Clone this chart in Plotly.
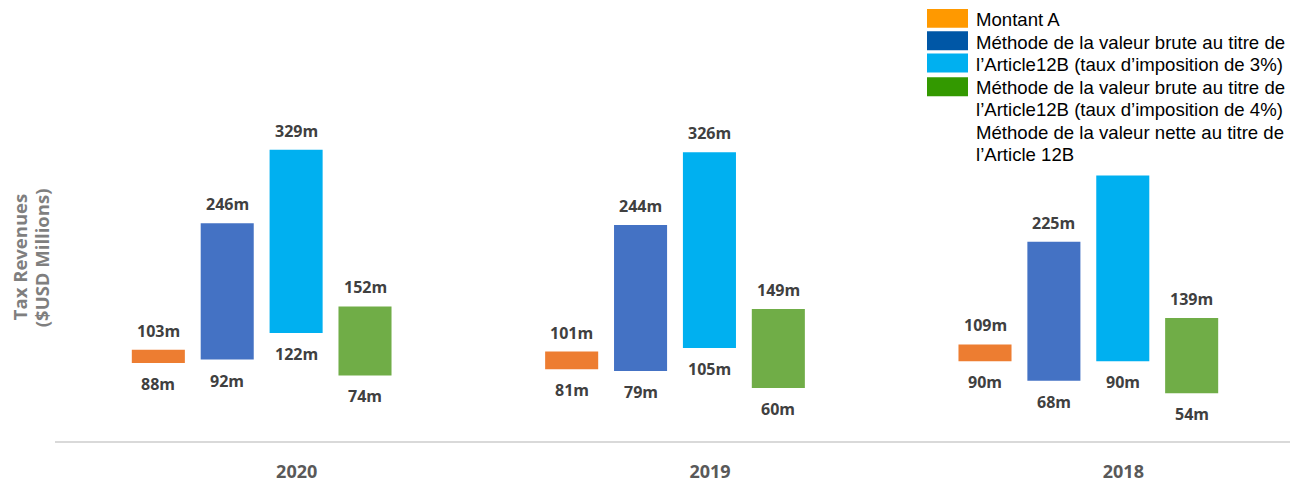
import plotly.graph_objects as go

# ---------------- data ----------------
years = ["2020", "2019", "2018"]

montant_a_low = [88, 81, 90]
montant_a_high = [103, 101, 109]

brute_3_low = [92, 79, 68]
brute_3_high = [246, 244, 225]

brute_4_low = [122, 105, 90]
brute_4_high = [329, 326, 300]

nette_low = [74, 60, 54]
nette_high = [152, 149, 139]

series_names = [
    "Montant A",
    "Méthode de la valeur brute au titre de l’Article12B (taux d’imposition de 3%)",
    "Méthode de la valeur brute au titre de l’Article12B (taux d’imposition de 4%)",
    "Méthode de la valeur nette au titre de l’Article 12B",
]
series_low = [montant_a_low, brute_3_low, brute_4_low, nette_low]
series_high = [montant_a_high, brute_3_high, brute_4_high, nette_high]

# labels not shown in the original (series index, year index)
hidden_top_labels = {(2, 2)}

legend_lines = [
    "Montant A",
    "Méthode de la valeur brute au titre de",
    "l’Article12B (taux d’imposition de 3%)",
    "Méthode de la valeur brute au titre de",
    "l’Article12B (taux d’imposition de 4%)",
    "Méthode de la valeur nette au titre de",
    "l’Article 12B",
]

y_title_lines = ["Tax Revenues", "($USD Millions)"]

# ---------------- style ----------------
bar_colors = ["#ED7D31", "#4472C4", "#00B0F0", "#70AD47"]
legend_colors = ["#FF9900", "#0057A6", "#00B0F0", "#339900"]
label_color = "#404040"

PAGE_OFF = 8  # default body margin of the html page
W, H = 1298 - PAGE_OFF, 485 - PAGE_OFF
ML, MR, MT, MB = 55 - PAGE_OFF, 3, 10 - PAGE_OFF, 40
plot_w = W - ML - MR
plot_h = H - MT - MB
px_per_unit = 0.8936
y_max = plot_h / px_per_unit

fig = go.Figure()

n = len(series_names)
group_width = 2 / 3
slot = group_width / n
bar_w = slot * 0.77

label_font = dict(family="Open Sans", size=16, color=label_color, weight="bold")

annotations = []
for j in range(n):
    xs = [i + (j - (n - 1) / 2) * slot for i in range(len(years))]
    lows = series_low[j]
    highs = series_high[j]
    fig.add_trace(go.Bar(
        x=xs,
        y=[h - l for h, l in zip(highs, lows)],
        base=lows,
        width=bar_w,
        name=series_names[j],
        marker=dict(color=bar_colors[j], line=dict(width=0)),
        showlegend=False,
        hovertemplate="%{base}m – %{customdata}m<extra>" + series_names[j] + "</extra>",
        customdata=highs,
    ))
    for i, x in enumerate(xs):
        if (j, i) not in hidden_top_labels:
            annotations.append(dict(
                x=x, y=highs[i], xref="x", yref="y", text=f"{highs[i]}m",
                showarrow=False, yanchor="middle", yshift=19, font=label_font,
            ))
        annotations.append(dict(
            x=x, y=lows[i], xref="x", yref="y", text=f"{lows[i]}m",
            showarrow=False, yanchor="middle", yshift=-21, font=label_font,
        ))


def px_x(page_px):
    return (page_px - PAGE_OFF - ML) / plot_w


def px_y(page_py):
    return (H - MB - (page_py - PAGE_OFF)) / plot_h


# custom legend (as drawn in the reference)
shapes = []
box_centers = [18.5, 41.0, 63.5, 87.5]
for k, c in enumerate(legend_colors):
    shapes.append(dict(
        type="rect", xref="paper", yref="paper",
        x0=px_x(927), x1=px_x(968),
        y0=px_y(box_centers[k] + 9.5), y1=px_y(box_centers[k] - 9.5),
        fillcolor=c, line=dict(width=0),
    ))
line_pitch = 22.8
for k, t in enumerate(legend_lines):
    annotations.append(dict(
        x=px_x(974), y=px_y(19.5 + k * line_pitch), xref="paper", yref="paper",
        text=t, showarrow=False, xanchor="left", yanchor="middle",
        font=dict(family="Liberation Sans, Arial", size=18.6, color="#000000"),
    ))

# y-axis title (two rotated lines)
for k, t in enumerate(y_title_lines):
    annotations.append(dict(
        x=px_x(19.5 + k * 22), y=px_y(260), xref="paper", yref="paper",
        text=t, textangle=-90, showarrow=False,
        xanchor="center", yanchor="middle",
        font=dict(family="Open Sans", size=18.5, color="#7F7F7F", weight="bold"),
    ))

fig.update_layout(
    width=W, height=H,
    margin=dict(l=ML, r=MR, t=MT, b=MB),
    paper_bgcolor="white", plot_bgcolor="white",
    barmode="overlay",
    annotations=annotations,
    shapes=shapes,
    xaxis=dict(
        range=[-0.5, len(years) - 0.5],
        tickmode="array", tickvals=list(range(len(years))), ticktext=years,
        showgrid=False, zeroline=False,
        showline=True, linecolor="#D9D9D9", linewidth=2,
        ticks="", ticklabelshift=35, ticklabelstandoff=13,
        tickfont=dict(family="Open Sans", size=18, color="#595959", weight="bold"),
    ),
    yaxis=dict(
        range=[0, y_max], showgrid=False, zeroline=False, showline=False,
        showticklabels=False, ticks="",
    ),
)

fig.write_html("out.html")
